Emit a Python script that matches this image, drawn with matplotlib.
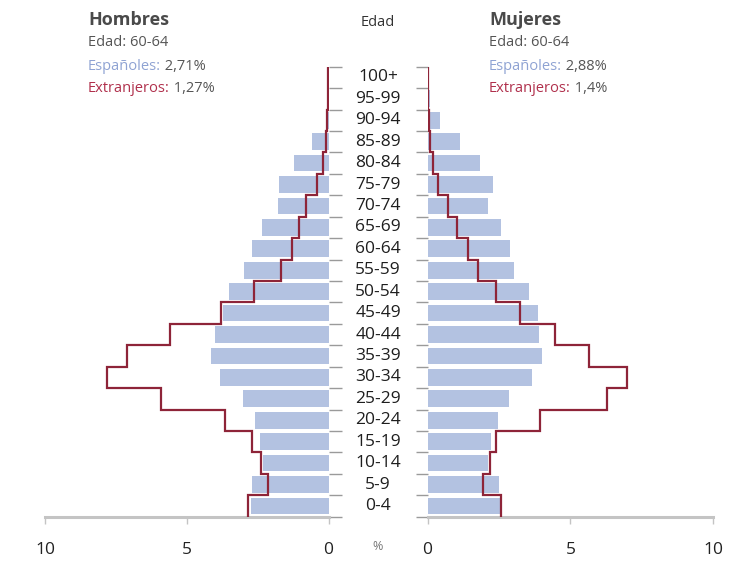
import matplotlib
matplotlib.use("Agg")
import matplotlib.pyplot as plt
import numpy as np

plt.rcParams['font.family'] = ['Open Sans', 'DejaVu Sans']

# ---------------- data (bottom row first) ----------------
ages = ['0-4', '5-9', '10-14', '15-19', '20-24', '25-29', '30-34', '35-39',
        '40-44', '45-49', '50-54', '55-59', '60-64', '65-69', '70-74',
        '75-79', '80-84', '85-89', '90-94', '95-99', '100+']
hombres_esp = [2.74, 2.71, 2.30, 2.42, 2.59, 3.01, 3.82, 4.14, 4.02, 3.72, 3.50,
               2.98, 2.71, 2.33, 1.79, 1.74, 1.22, 0.59, 0.10, 0.02, 0.0]
hombres_ext = [2.83, 2.12, 2.38, 2.71, 3.65, 5.91, 7.82, 7.12, 5.59, 3.79, 2.63,
               1.69, 1.27, 1.04, 0.79, 0.41, 0.20, 0.10, 0.05, 0.03, 0.02]
mujeres_esp = [2.57, 2.51, 2.13, 2.21, 2.45, 2.86, 3.64, 4.00, 3.91, 3.85, 3.56,
               3.02, 2.88, 2.57, 2.13, 2.30, 1.84, 1.14, 0.44, 0.08, 0.02]
mujeres_ext = [2.57, 1.95, 2.19, 2.40, 3.93, 6.27, 6.99, 5.65, 4.46, 3.23, 2.40,
               1.78, 1.40, 1.04, 0.73, 0.38, 0.20, 0.09, 0.05, 0.03, 0.02]
x_ticks = [0, 5, 10]
selected_age = '60-64'
titles = ['Hombres', 'Mujeres']
sel_esp = ['2,71%', '2,88%']
sel_ext = ['1,27%', '1,4%']

# ---------------- style ----------------
W, H = 734, 562
BAR = '#b3c2e1'
LINE = '#8e2438'
ESP_C = '#8fa3d3'
EXT_C = '#b0304c'
GRAY_T = '#555555'
AX_C = '#c4c4c4'

fig = plt.figure(figsize=(W / 100, H / 100), dpi=100)
fig.patch.set_facecolor('white')


def fx(x):
    return x / W


def fy(y):
    return 1 - y / H


y0, y1 = 516.7, 66.7
n = len(ages)
edges = np.arange(n + 1)
centers = np.arange(n) + 0.5

ax_l = fig.add_axes([fx(45), fy(y0), fx(328.5) - fx(45), (y0 - y1) / H])
ax_r = fig.add_axes([fx(427.5), fy(y0), fx(713.3) - fx(427.5), (y0 - y1) / H])

for ax, esp, ext, side in [(ax_l, hombres_esp, hombres_ext, 'right'),
                           (ax_r, mujeres_esp, mujeres_ext, 'left')]:
    ax.barh(centers, esp, height=0.78, color=BAR, zorder=1)
    ax.stairs(ext, edges, orientation='horizontal', baseline=None,
              color=LINE, linewidth=1.6, zorder=3)
    ax.set_ylim(0, n)
    ax.set_xlim(0, 10)
    for s in ['top', 'left', 'right']:
        ax.spines[s].set_visible(False)
    ax.spines['bottom'].set_color(AX_C)
    ax.spines['bottom'].set_linewidth(2.2)
    ax.set_xticks(x_ticks)
    ax.set_xticklabels([str(t) for t in x_ticks])
    ax.tick_params(axis='x', direction='out', length=5, width=1, color=AX_C,
                   pad=13.5, labelsize=12.5, labelcolor='#222222')
    ax.set_yticks(edges)
    ax.set_yticklabels([])
    ax.yaxis.set_ticks_position(side)
    ax.tick_params(axis='y', direction='out', length=9, width=1, color='#9a9a9a')
    ax.patch.set_alpha(0)

ax_l.invert_xaxis()

# age labels in the centre
for c, lab in zip(centers, ages):
    ypix = y0 - c * (y0 - y1) / n
    fig.text(fx(378), fy(ypix), lab, ha='center', va='center',
             fontsize=12.5, color='#1e1e1e')

fig.text(fx(378), fy(22), 'Edad', ha='center', va='center', fontsize=10.5,
         color='#333333')
fig.text(fx(378), fy(547), '%', ha='center', va='center', fontsize=9,
         color='#777777')

# legends
for xl, title, e, x in [(88, titles[0], sel_esp[0], sel_ext[0]),
                        (489, titles[1], sel_esp[1], sel_ext[1])]:
    fig.text(fx(xl), fy(20), title, ha='left', va='center', fontsize=13,
             fontweight='bold', color='#4a4a4a')
    fig.text(fx(xl), fy(43), 'Edad: ' + selected_age, ha='left', va='center',
             fontsize=10.5, color=GRAY_T)
    t1 = fig.text(fx(xl), fy(66), 'Españoles:', ha='left', va='center',
                  fontsize=10.5, color=ESP_C)
    ax_l.annotate(' ' + e, xy=(1, 0.5), xycoords=t1, ha='left', va='center',
                  fontsize=10.5, color=GRAY_T, annotation_clip=False)
    t2 = fig.text(fx(xl), fy(89), 'Extranjeros:', ha='left', va='center',
                  fontsize=10.5, color=EXT_C)
    ax_l.annotate(' ' + x, xy=(1, 0.5), xycoords=t2, ha='left', va='center',
                  fontsize=10.5, color=GRAY_T, annotation_clip=False)

fig.savefig('out.png', dpi=100, facecolor='white')
